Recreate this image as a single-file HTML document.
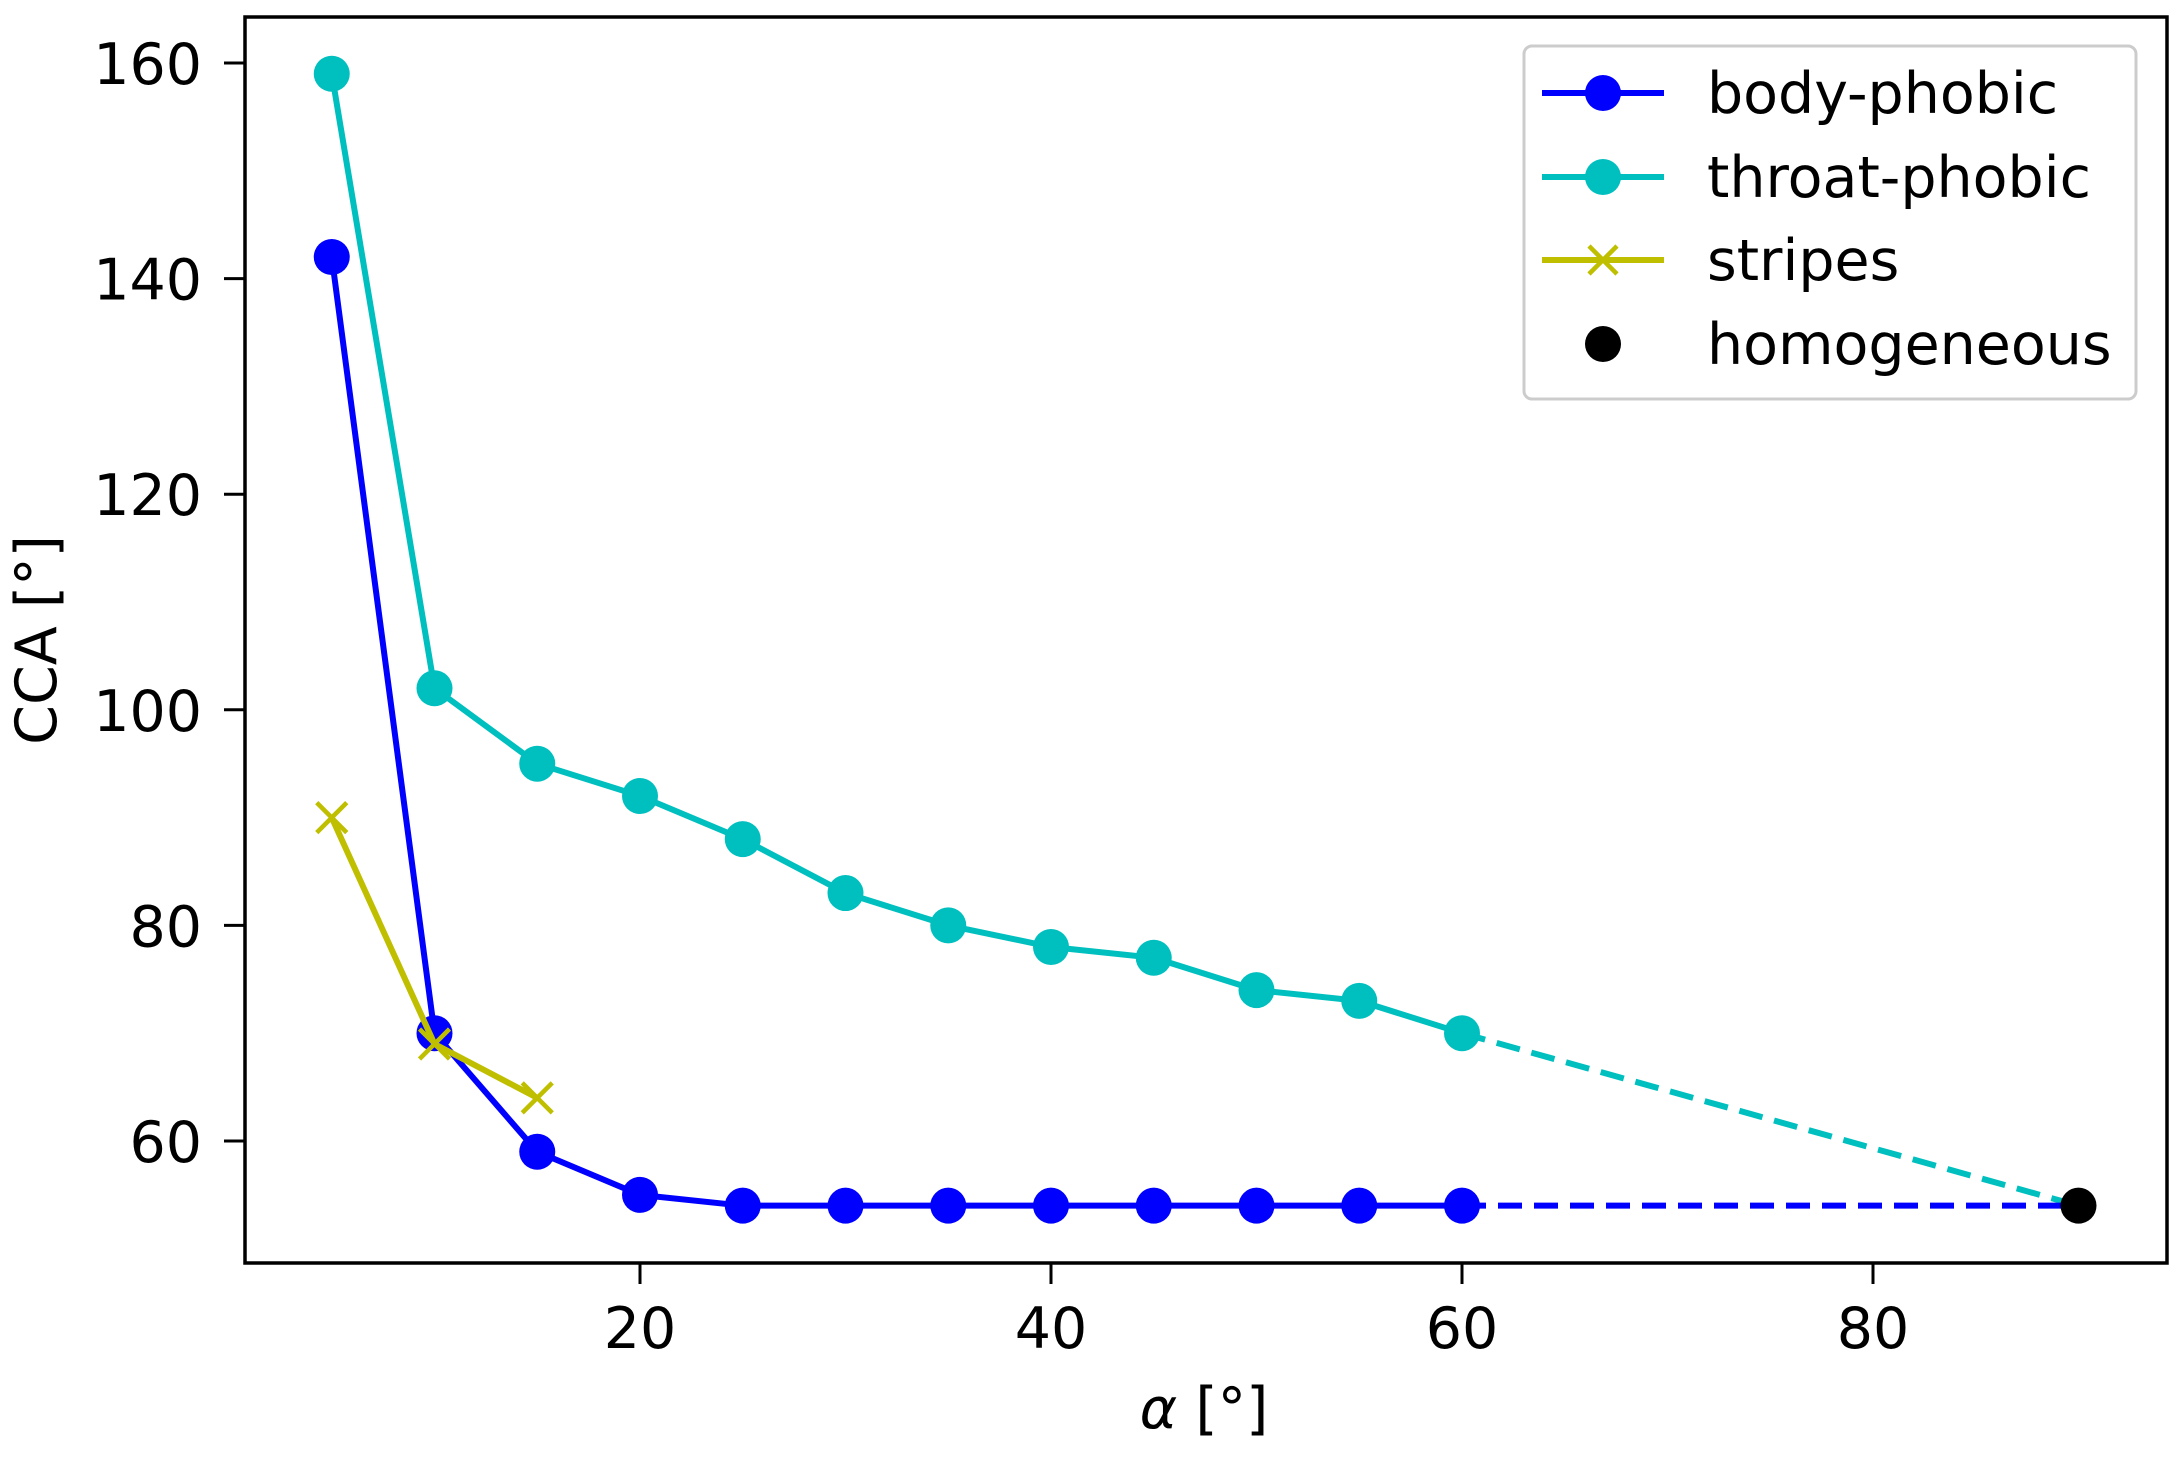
<!DOCTYPE html>
<html><head><meta charset="utf-8"><style>
body{margin:0;background:#fff}
svg text{font-family:"DejaVu Sans","Liberation Sans",sans-serif;fill:#000}
</style></head><body>
<svg id="chart" width="2182" height="1456" viewBox="0 0 2182 1456" xmlns="http://www.w3.org/2000/svg">
<g id="marks"></g>
<rect x="245" y="17" width="1922" height="1246" fill="none" stroke="#000" stroke-width="3.5"/>
<g id="ticks"></g>
<text transform="translate(56,640) rotate(-90)" text-anchor="middle" font-size="57">CCA [°]</text>
<text x="1204" y="1428" text-anchor="middle" font-size="57"><tspan font-style="italic">α</tspan> [°]</text>
<g>
<rect x="1524" y="46" width="612" height="353" rx="8" fill="#fff" fill-opacity="0.8" stroke="#ccc" stroke-width="3"/>
<line x1="1542" y1="93" x2="1664" y2="93" stroke="#0000ff" stroke-width="6"/><circle cx="1603" cy="93" r="18" fill="#0000ff"/>
<text x="1707" y="113" font-size="57">body-phobic</text>
<line x1="1542" y1="177" x2="1664" y2="177" stroke="#00bfbf" stroke-width="6"/><circle cx="1603" cy="177" r="18" fill="#00bfbf"/>
<text x="1707" y="197" font-size="57">throat-phobic</text>
<line x1="1542" y1="260" x2="1664" y2="260" stroke="#bfbf00" stroke-width="6"/><path d="M1589 246 L1617 274 M1617 246 L1589 274" stroke="#bfbf00" stroke-width="4.5"/>
<text x="1707" y="280" font-size="57">stripes</text>
<circle cx="1603" cy="344" r="18" fill="#000"/>
<text x="1707" y="364" font-size="57">homogeneous</text>
</g>
</svg>
<script>
const alphas = [5,10,15,20,25,30,35,40,45,50,55,60];
const bodyPhobic = [142,70,59,55,54,54,54,54,54,54,54,54];
const throatPhobic = [159,102,95,92,88,83,80,78,77,74,73,70];
const stripesX = [5,10,15];
const stripesY = [90,69,64];
const homogeneousX = [90];
const homogeneousY = [54];
const xTicks = [20,40,60,80];
const yTicks = [60,80,100,120,140,160];

const X = v => 229 + v*20.55;
const Y = v => 63 + (160 - v)*10.78;
const NS = "http://www.w3.org/2000/svg";
const marks = document.getElementById('marks');
const ticks = document.getElementById('ticks');
function mk(tag, attrs, parent){const e=document.createElementNS(NS,tag);for(const k in attrs)e.setAttribute(k,attrs[k]);parent.appendChild(e);return e;}
function pts(xs,ys){return xs.map((x,i)=>X(x)+','+Y(ys[i])).join(' ');}

let d1 = mk('line',{x1:X(alphas[11]),y1:Y(throatPhobic[11]),x2:X(homogeneousX[0]),y2:Y(homogeneousY[0]),stroke:'#00bfbf','stroke-width':6,'stroke-dasharray':'24 12'},marks);


let d2 = mk('line',{x1:X(alphas[11]),y1:Y(bodyPhobic[11]),x2:X(homogeneousX[0]),y2:Y(homogeneousY[0]),stroke:'#0000ff','stroke-width':6,'stroke-dasharray':'24 12'},marks);



function series(name, xs, ys, color){
  const l = mk('polyline',{points:pts(xs,ys),fill:'none',stroke:color,'stroke-width':6,'stroke-linejoin':'round'},marks);
  
  
  xs.forEach((x,i)=>{
    const c = mk('circle',{cx:X(x),cy:Y(ys[i]),r:18,fill:color},marks);
    
    
  });
}
series('throat-phobic', alphas, throatPhobic, '#00bfbf');
series('body-phobic', alphas, bodyPhobic, '#0000ff');

const sl = mk('polyline',{points:pts(stripesX,stripesY),fill:'none',stroke:'#bfbf00','stroke-width':6},marks);


stripesX.forEach((x,i)=>{
  const cx=X(x), cy=Y(stripesY[i]);
  const p = mk('path',{d:`M${cx-15} ${cy-15} L${cx+15} ${cy+15} M${cx+15} ${cy-15} L${cx-15} ${cy+15}`,stroke:'#bfbf00','stroke-width':4.5},marks);
  
  
});
homogeneousX.forEach((x,i)=>{
  const c = mk('circle',{cx:X(x),cy:Y(homogeneousY[i]),r:18,fill:'#000'},marks);
  
  
});

xTicks.forEach(t=>{
  const l = mk('line',{x1:X(t),y1:1263,x2:X(t),y2:1284,stroke:'#000','stroke-width':3},ticks);
  
  
  const tx = mk('text',{x:X(t),y:1348,'text-anchor':'middle','font-size':57},ticks);
  tx.textContent = t;
  
  
});
yTicks.forEach(t=>{
  const l = mk('line',{x1:224,y1:Y(t),x2:245,y2:Y(t),stroke:'#000','stroke-width':3},ticks);
  
  
  const tx = mk('text',{x:202,y:Y(t)+21,'text-anchor':'end','font-size':57},ticks);
  tx.textContent = t;
  
  
});
</script>
</body></html>
